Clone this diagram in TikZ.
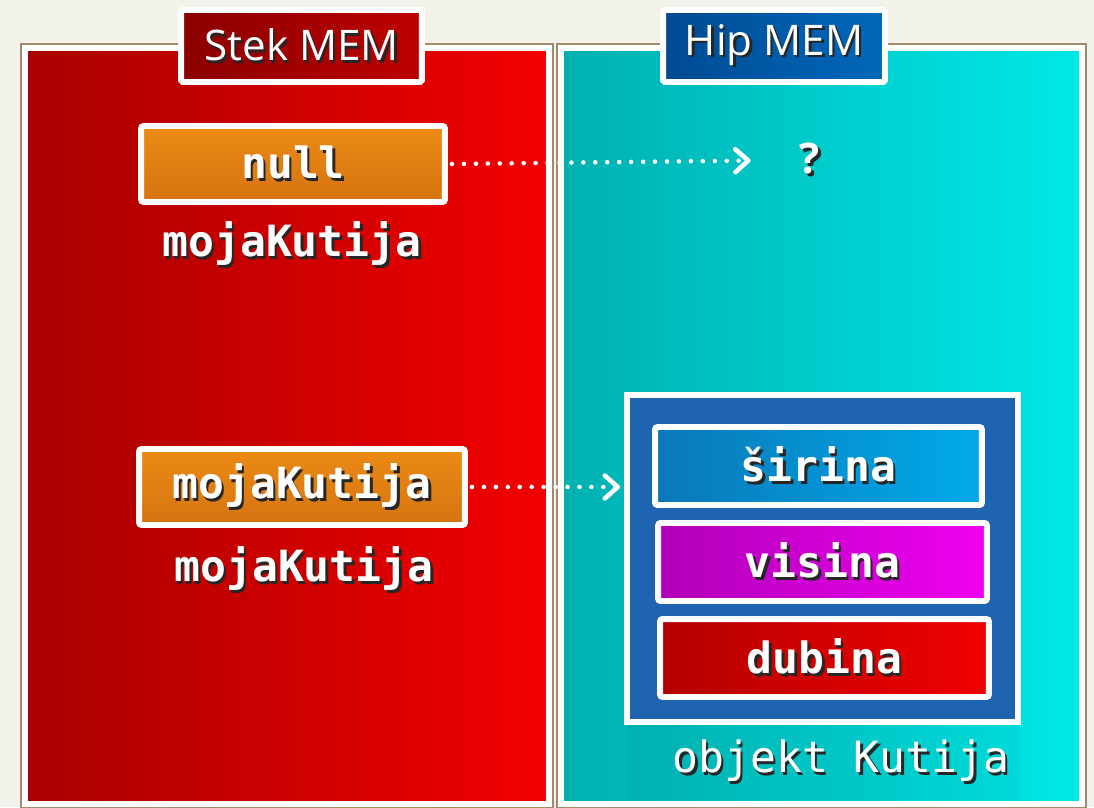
\documentclass[tikz,border=0pt]{standalone}
\usepackage{fontspec}
\setsansfont{Open Sans}
\newfontfamily\monofnt{DejaVu Sans Mono}
\usepackage{tikz}
\usetikzlibrary{positioning, arrows.meta, backgrounds}

\definecolor{pagebg}{HTML}{F3F2EA}
\definecolor{panelshade}{HTML}{A08C6C}
\definecolor{stackdark}{HTML}{A80000}
\definecolor{stacklight}{HTML}{F20000}
\definecolor{heapdark}{HTML}{00B0B0}
\definecolor{heaplight}{HTML}{00E8E8}
\definecolor{stektagdark}{HTML}{8A0000}
\definecolor{stektaglight}{HTML}{BE0000}
\definecolor{hiptagdark}{HTML}{004A92}
\definecolor{hiptaglight}{HTML}{0068BA}
\definecolor{refdark}{HTML}{D47410}
\definecolor{reflight}{HTML}{EC8A14}
\definecolor{objblue}{HTML}{1E64B0}
\definecolor{sirdark}{HTML}{0A78B8}
\definecolor{sirlight}{HTML}{00AAEA}
\definecolor{visdark}{HTML}{B000B8}
\definecolor{vislight}{HTML}{F000F0}
\definecolor{dubdark}{HTML}{B40000}
\definecolor{dublight}{HTML}{F00000}

\newcommand{\shtxt}[1]{\makebox[0pt][l]{\kern1.4pt\raisebox{-1.4pt}{\color{black!85}#1}}\color{white}#1}

\begin{document}
\begin{tikzpicture}[
  x=0.02cm, y=-0.02cm,
  panel/.style={draw=white, line width=3.4pt, inner sep=0pt,
    preaction={draw=panelshade, line width=6pt}},
  tag/.style={draw=white, line width=3.4pt, rounded corners=1pt, inner sep=0pt,
    minimum height=1.44cm, font=\sffamily\fontsize{24}{28}\selectfont},
  field/.style={draw=white, line width=3.4pt, rounded corners=1.5pt, inner sep=0pt,
    minimum height=1.52cm, font=\monofnt\bfseries\fontsize{24.5}{28}\selectfont},
  lbl/.style={inner sep=0pt, font=\monofnt\bfseries\fontsize{24.5}{28}\selectfont},
  ptr/.style={white, line width=2.6pt, line cap=round, dash pattern=on 0pt off 6.8pt,
    -{Straight Barb[length=2.6mm, width=4.6mm, line width=2.6pt, round]}}
]
  \useasboundingbox (0,0) rectangle (1094,807);
  \fill[pagebg] (0,0) rectangle (1094,807);

  \node[panel, left color=stackdark, right color=stacklight,
    minimum width=10.48cm, minimum height=15.12cm] (stack) at (287,426) {};
  \node[panel, left color=heapdark, right color=heaplight,
    minimum width=10.42cm, minimum height=15.12cm] (heap) at (821.5,426) {};

  \node[tag, left color=stektagdark, right color=stektaglight, minimum width=4.82cm]
    (stektag) at (301.5,46) {\shtxt{Stek MEM}};
  \node[tag, left color=hiptagdark, right color=hiptaglight, minimum width=4.44cm]
    (hiptag) at (774,46) {\shtxt{Hip MEM}};

  \node[field, top color=reflight, bottom color=refdark, minimum width=6.08cm]
    (nullref) at (293,164) {\shtxt{null}};
  \node[lbl] (nullname) at (292,245) {\shtxt{mojaKutija}};
  \node[inner sep=0pt, font=\sffamily\bfseries\fontsize{24}{28}\selectfont]
    (unknown) at (810,160) {\shtxt{?}};

  \node[field, top color=reflight, bottom color=refdark, minimum width=6.52cm]
    (boxref) at (302,487) {\shtxt{mojaKutija}};
  \node[lbl] (boxname) at (304,570) {\shtxt{mojaKutija}};

  \fill[black, opacity=0.035] (628,725) rectangle (1020,800);
  \node[draw=white, line width=3.4pt, fill=objblue, inner sep=0pt,
    minimum width=7.82cm, minimum height=6.54cm] (obj) at (822.5,558.5) {};
  \node[field, left color=sirdark, right color=sirlight, minimum width=6.54cm, minimum height=1.56cm]
    (sirina) at (818.5,466) {\shtxt{širina}};
  \node[field, left color=visdark, right color=vislight, minimum width=6.58cm, minimum height=1.56cm]
    (visina) at (822.5,562) {\shtxt{visina}};
  \node[field, left color=dubdark, right color=dublight, minimum width=6.58cm, minimum height=1.56cm]
    (dubina) at (824.5,658) {\shtxt{dubina}};
  \node[inner sep=0pt, font=\monofnt\fontsize{24.5}{28}\selectfont]
    (objname) at (841,762) {\shtxt{objekt Kutija}};

  \draw[ptr, shorten <=0.8mm, shorten >=9.8mm] (nullref.east) -- (unknown.west);
  \draw[ptr, shorten <=0.8mm, shorten >=0.8mm] (boxref.east) -- (boxref.east -| obj.west);
\end{tikzpicture}
\end{document}
